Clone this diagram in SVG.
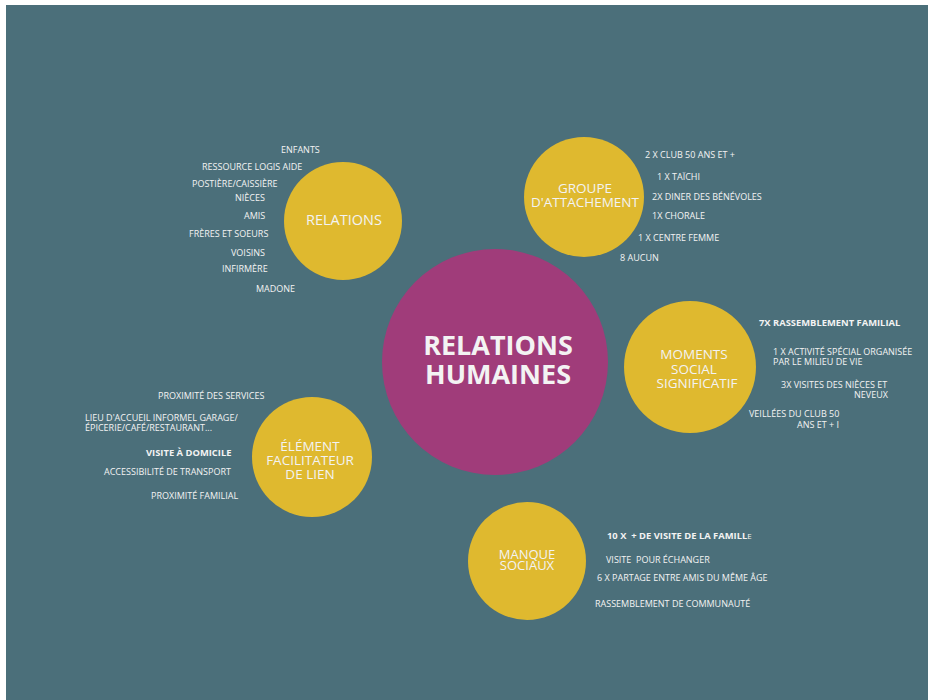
<svg xmlns="http://www.w3.org/2000/svg" width="930" height="700" viewBox="0 0 930 700">
  <style>
    .bg { fill: #4b6f7a; }
    .hub { fill: #a03c7a; }
    .bubble { fill: #dfb92f; }
    text { font-family: "Open Sans", "Noto Sans", "Liberation Sans", sans-serif; fill: #f3f3f3; }
    .item { font-size: 9px; }
    .item-b { font-size: 9.4px; font-weight: 700; }
    .title { font-size: 14px; text-anchor: middle; }
    .hub-title { font-size: 27px; font-weight: 700; text-anchor: middle; }
  </style>

  <rect class="bg" x="6" y="5" width="922" height="695"/>

  <!-- central theme -->
  <g id="relations-humaines">
    <circle class="hub" cx="495" cy="362" r="113"/>
    <text class="hub-title" x="498" y="355">RELATIONS</text>
    <text class="hub-title" x="498" y="384">HUMAINES</text>
  </g>

  <!-- relations -->
  <g id="relations">
    <circle class="bubble" cx="343" cy="221" r="59"/>
    <text class="title" x="344" y="225" style="font-size:14.5px">RELATIONS</text>
    <text class="item" x="281" y="153">ENFANTS</text>
    <text class="item" x="202" y="170">RESSOURCE LOGIS AIDE</text>
    <text class="item" x="192" y="187">POSTIÈRE/CAISSIÈRE</text>
    <text class="item" x="235" y="201">NIÈCES</text>
    <text class="item" x="244" y="219">AMIS</text>
    <text class="item" x="189" y="237">FRÈRES ET SOEURS</text>
    <text class="item" x="231" y="256">VOISINS</text>
    <text class="item" x="222" y="272">INFIRMÈRE</text>
    <text class="item" x="256" y="292">MADONE</text>
  </g>

  <!-- groupe d'attachement -->
  <g id="groupe-attachement">
    <circle class="bubble" cx="584" cy="197" r="60"/>
    <text class="title" x="585" y="193" style="font-size:13.5px">GROUPE</text>
    <text class="title" x="585" y="207" style="font-size:13.5px">D'ATTACHEMENT</text>
    <text class="item" x="645" y="158">2 X CLUB 50 ANS ET +</text>
    <text class="item" x="657" y="180">1 X TAÏCHI</text>
    <text class="item" x="652" y="200">2X DINER DES BÉNÉVOLES</text>
    <text class="item" x="652" y="219">1X CHORALE</text>
    <text class="item" x="638" y="241">1 X CENTRE FEMME</text>
    <text class="item" x="620" y="261">8 AUCUN</text>
  </g>

  <!-- moments social significatif -->
  <g id="moments-social">
    <circle class="bubble" cx="690" cy="367" r="66"/>
    <text class="title" x="694" y="359" style="font-size:13.5px">MOMENTS</text>
    <text class="title" x="694" y="374" style="font-size:13.5px">SOCIAL</text>
    <text class="title" x="697" y="388" style="font-size:13.5px">SIGNIFICATIF</text>
    <text class="item-b" x="759" y="326">7X RASSEMBLEMENT FAMILIAL</text>
    <text class="item" x="773" y="355">1 X ACTIVITÉ SPÉCIAL ORGANISÉE</text>
    <text class="item" x="773" y="365">PAR LE MILIEU DE VIE</text>
    <text class="item" x="781" y="388">3X VISITES DES NIÈCES ET</text>
    <text class="item" x="854" y="398">NEVEUX</text>
    <text class="item" x="749" y="417">VEILLÉES DU CLUB 50</text>
    <text class="item" x="797" y="428">ANS ET + I</text>
  </g>

  <!-- élément facilitateur de lien -->
  <g id="element-facilitateur">
    <circle class="bubble" cx="312" cy="457" r="60"/>
    <text class="title" x="310" y="451" style="font-size:13.5px">ÉLÉMENT</text>
    <text class="title" x="310" y="465" style="font-size:13.5px">FACILITATEUR</text>
    <text class="title" x="310" y="479" style="font-size:13.5px">DE LIEN</text>
    <text class="item" x="158" y="399">PROXIMITÉ DES SERVICES</text>
    <text class="item" x="85" y="421">LIEU D'ACCUEIL INFORMEL GARAGE/</text>
    <text class="item" x="85" y="431">ÉPICERIE/CAFÉ/RESTAURANT...</text>
    <text class="item-b" x="146" y="456">VISITE À DOMICILE</text>
    <text class="item" x="104" y="475">ACCESSIBILITÉ DE TRANSPORT</text>
    <text class="item" x="151" y="499">PROXIMITÉ FAMILIAL</text>
  </g>

  <!-- manque sociaux -->
  <g id="manque-sociaux">
    <circle class="bubble" cx="527" cy="561" r="59"/>
    <text class="title" x="527" y="559" style="font-size:13px">MANQUE</text>
    <text class="title" x="527" y="570" style="font-size:13px">SOCIAUX</text>
    <text class="item-b" x="607" y="539" style="white-space:pre">10 X  + DE VISITE DE LA FAMILL<tspan style="font-weight:400;font-size:8px">E</tspan></text>
    <text class="item" x="606" y="563" style="white-space:pre">VISITE  POUR ÉCHANGER</text>
    <text class="item" x="597" y="581">6 X PARTAGE ENTRE AMIS DU MÊME ÂGE</text>
    <text class="item" x="595" y="607">RASSEMBLEMENT DE COMMUNAUTÉ</text>
  </g>
</svg>
